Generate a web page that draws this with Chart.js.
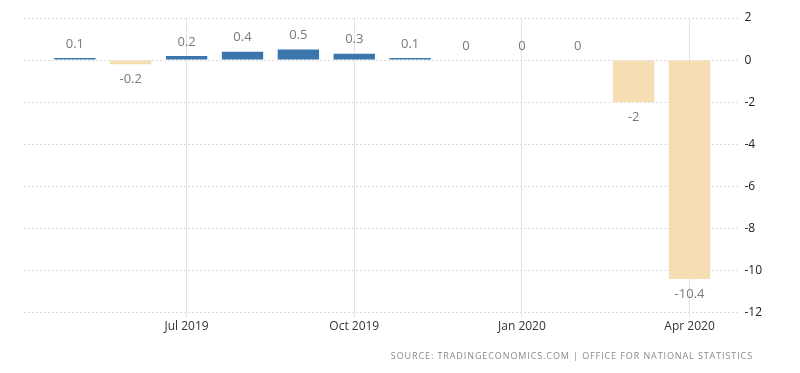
<!DOCTYPE html>
<html>
<head>
<meta charset="utf-8">
<script src="https://cdn.jsdelivr.net/npm/chart.js@4/dist/chart.umd.min.js"></script>
<style>
  html, body { margin: 0; padding: 0; background: #fff; }
  #wrap { position: relative; width: 800px; height: 373px; }
  #source {
    position: absolute; right: 47px; top: 349px;
    font: 9px "Open Sans", sans-serif; letter-spacing: 0.9px;
    color: #8a8a8a;
  }
</style>
</head>
<body>
<div id="wrap">
  <canvas id="gdp-chart" width="800" height="373"></canvas>
  <div id="source">SOURCE: TRADINGECONOMICS.COM | OFFICE FOR NATIONAL STATISTICS</div>
</div>
<script>
var months = ['May 2019', 'Jun 2019', 'Jul 2019', 'Aug 2019', 'Sep 2019', 'Oct 2019',
              'Nov 2019', 'Dec 2019', 'Jan 2020', 'Feb 2020', 'Mar 2020', 'Apr 2020'];
var values = [0.1, -0.2, 0.2, 0.4, 0.5, 0.3, 0.1, 0, 0, 0, -2, -10.4];
var shownMonths = ['Jul 2019', 'Oct 2019', 'Jan 2020', 'Apr 2020'];
var yMin = -12, yMax = 2, yStep = 2;

var blue = 'rgb(58, 117, 172)';
var beige = 'rgb(245, 222, 180)';

// labels above positive bars, below negative ones
var valueLabels = {
    id: 'valueLabels',
    afterDatasetsDraw: function (chart) {
        var ctx = chart.ctx;
        var meta = chart.getDatasetMeta(0);
        ctx.save();
        ctx.font = '13px "Open Sans", sans-serif';
        ctx.fillStyle = '#7a7a7a';
        ctx.textAlign = 'center';
        ctx.textBaseline = 'middle';
        meta.data.forEach(function (bar, i) {
            var v = values[i];
            var y = v < 0 ? bar.y + 15 : bar.y - 14;
            ctx.fillText(String(v), bar.x, y);
        });
        ctx.restore();
    }
};

var gdpChart = new Chart(document.getElementById('gdp-chart'), {
    type: 'bar',
    data: {
        datasets: [{
            data: values.map(function (v, i) { return { x: i, y: v }; }),
            backgroundColor: values.map(function (v) { return v < 0 ? beige : blue; }),
            barPercentage: 0.74,
            categoryPercentage: 1
        }]
    },
    options: {
        responsive: false,
        animation: false,
        layout: {
            padding: { left: 24, top: 18, right: 34, bottom: 37 }
        },
        plugins: {
            legend: { display: false },
            tooltip: { enabled: false }
        },
        scales: {
            x: {
                type: 'linear',
                offset: false,
                min: -0.91,
                max: 11.91,
                afterBuildTicks: function (axis) {
                    axis.ticks = months
                        .map(function (m, i) { return shownMonths.indexOf(m) >= 0 ? { value: i } : null; })
                        .filter(function (t) { return t; });
                },
                ticks: {
                    callback: function (v) { return months[v]; },
                    color: '#333',
                    font: { family: 'Open Sans', size: 12 },
                    maxRotation: 0,
                    padding: 2
                },
                grid: {
                    offset: false,
                    color: '#e3e3e3',
                    tickLength: 5
                },
                border: { display: false }
            },
            y: {
                position: 'right',
                min: yMin,
                max: yMax,
                ticks: {
                    stepSize: yStep,
                    color: '#222',
                    font: { family: 'Open Sans', size: 12 },
                    padding: 4
                },
                grid: {
                    color: '#dcdcdc',
                    drawTicks: false
                },
                border: { display: false, dash: [2, 2] }
            }
        }
    },
    plugins: [valueLabels]
});
</script>
</body>
</html>
